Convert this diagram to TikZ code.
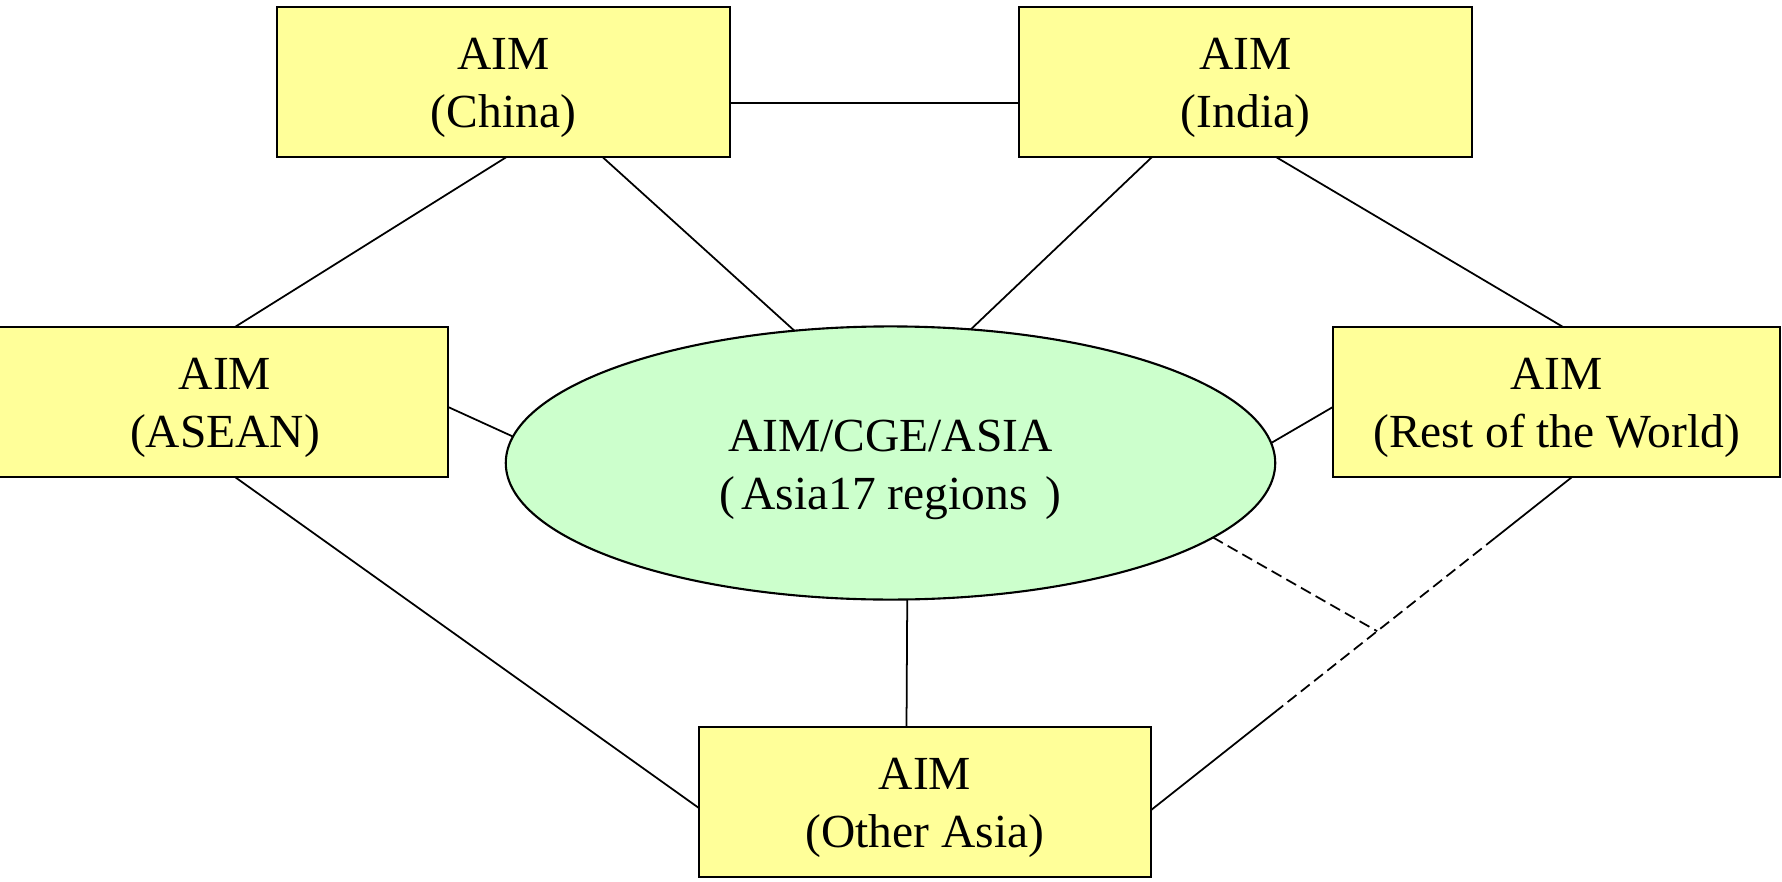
\documentclass[tikz,border=0pt]{standalone}
\usepackage{fontspec}
\setmainfont{Liberation Serif}
\usetikzlibrary{shapes.geometric,calc}
\definecolor{boxyellow}{HTML}{FFFF99}
\definecolor{ellgreen}{HTML}{CCFFCC}
\begin{document}
\begin{tikzpicture}[x=0.01cm,y=-0.01cm,
  box/.style={draw=black, line width=0.75pt, fill=boxyellow, minimum width=4.53cm, minimum height=1.5cm, inner sep=0pt, outer sep=0pt},
  ellbox/.style={ellipse, draw=black, line width=0.6pt, fill=ellgreen, minimum width=7.69cm, minimum height=2.73cm, inner sep=0pt, outer sep=0pt},
  lbl/.style={align=center, font=\fontsize{13.5}{16.5}\selectfont, inner sep=0pt},
  conn/.style={draw=black, line width=0.5pt},
  dashconn/.style={conn, dash pattern=on 3.2pt off 1.6pt}]
\useasboundingbox (0,0) rectangle (1782,882);
% nodes
\node[box] (china) at (503.5,82) {};
\node[box] (india) at (1245.5,82) {};
\node[box, minimum width=4.50cm] (asean) at (223,402) {};
\node[box, minimum width=4.47cm] (rotw) at (1556.5,402) {};
\node[box, minimum width=4.52cm] (oa) at (925,802) {};
\node[ellbox] (ell) at (890.5,463) {};
% texts
\node[lbl] (chinaT) at ($(china)+(0,6)$) {AIM\\(China)};
\node[lbl] (indiaT) at ($(india)+(0,6)$) {AIM\\(India)};
\node[lbl] (aseanT) at ($(asean)+(2,6)$) {AIM\\(ASEAN)};
\node[lbl] (rotwT) at ($(rotw)+(0,6)$) {AIM\\(Rest of the World)};
\node[lbl] (oaT) at ($(oa)+(0,6)$) {AIM\\(Other Asia)};
\node[lbl] (ellT) at ($(ell)+(0,7)$) {AIM/CGE/ASIA\\(\hspace{0.06cm}Asia17 regions\hspace{0.18cm})};
% connectors
\draw[conn] ($(china.east)+(0,21)$) -- ($(india.west)+(0,21)$);
\draw[conn] ($(china.south)+(3,0)$) -- ($(asean.north)+(12,0)$);
\draw[conn] ($(china.south)+(99,0)$) -- (ell.126);
\draw[conn] ($(india.south)+(-93.5,0)$) -- (ell.59);
\draw[conn] ($(india.south)+(30.5,0)$) -- ($(rotw.north)+(6.5,0)$);
\draw[conn] ($(asean.east)+(0,5)$) -- (ell.176.4);
\draw[conn] ($(rotw.west)+(0,5)$) -- (ell.3.6);
\draw[conn] ($(asean.south)+(12,0)$) -- ($(oa.west)+(0,6)$);
\draw[conn] (ell.-83.3) -- ($(oa.north)+(-18.5,0)$);
\coordinate (r1) at ($(rotw.south)+(15.5,0)$);
\coordinate (o1) at ($(oa.east)+(0,8)$);
\coordinate (d1) at ($(r1)!0.183!(o1)$);
\coordinate (d2) at ($(r1)!0.70!(o1)$);
\coordinate (jn) at ($(r1)!0.463!(o1)$);
\draw[conn] (r1) -- (d1);
\draw[dashconn] (d1) -- (d2);
\draw[conn] (d2) -- (o1);
\draw[dashconn] (ell.-13) -- (jn);
\end{tikzpicture}
\end{document}
